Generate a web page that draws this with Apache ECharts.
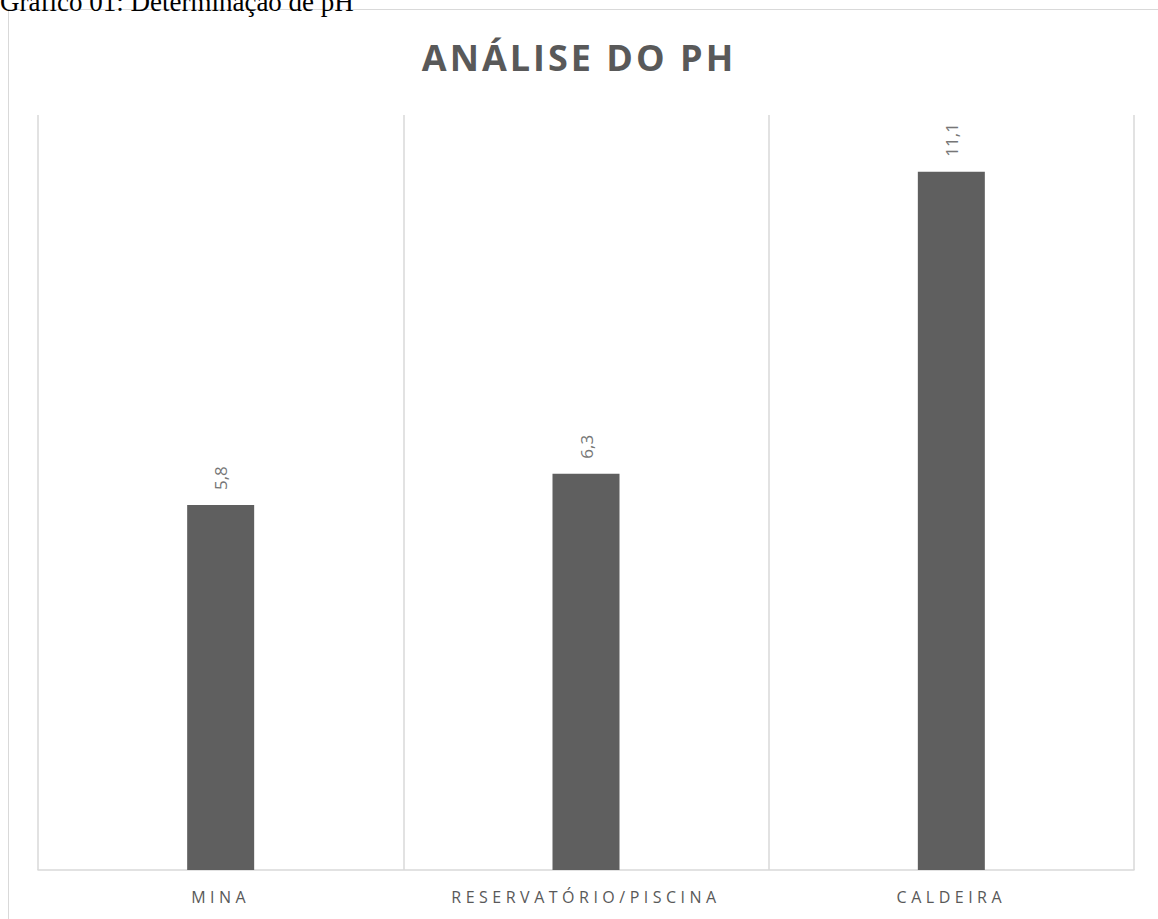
<!DOCTYPE html>
<html>
<head>
<meta charset="utf-8">
<script src="https://cdn.jsdelivr.net/npm/echarts@6/dist/echarts.min.js"></script>
<style>
  html, body { margin: 0; padding: 0; background: #fff; overflow: hidden; }
  #main { width: 1158px; height: 919px; }
</style>
</head>
<body>
<div id="main"></div>
<script>
var categories = ['MINA', 'RESERVATÓRIO/PISCINA', 'CALDEIRA'];
var phValues = [5.8, 6.3, 11.1];
var yMax = 12;

var chart = echarts.init(document.getElementById('main'), null, { renderer: 'svg' });

chart.setOption({
  backgroundColor: '#ffffff',
  animation: false,
  title: {
    text: 'ANÁLISE DO PH',
    left: 'center',
    top: 34,
    textStyle: {
      fontFamily: 'Open Sans',
      fontSize: 36,
      fontWeight: 'bold',
      color: '#595959'
    }
  },
  graphic: [
    {
      type: 'rect',
      shape: { x: 8.5, y: 9.5, width: 1170, height: 930 },
      style: { fill: 'none', stroke: '#d9d9d9', lineWidth: 1 },
      silent: true
    },
    {
      type: 'text',
      left: 0,
      top: -12,
      style: {
        text: 'Gráfico 01: Determinação de pH',
        font: '27px "Liberation Serif"',
        fill: '#000'
      },
      silent: true
    }
  ],
  grid: { left: 38, right: 24, top: 115, bottom: 49 },
  xAxis: {
    type: 'category',
    data: categories,
    boundaryGap: true,
    axisLine: { lineStyle: { color: '#d9d9d9', width: 1.5 } },
    axisTick: { show: false },
    splitLine: { show: true, lineStyle: { color: '#d9d9d9', width: 1.5 } },
    axisLabel: {
      margin: 19,
      fontFamily: 'Open Sans',
      fontSize: 16,
      color: '#595959'
    }
  },
  yAxis: {
    type: 'value',
    min: 0,
    max: yMax,
    axisLine: { show: false },
    axisTick: { show: false },
    axisLabel: { show: false },
    splitLine: { show: false }
  },
  series: [{
    type: 'bar',
    data: phValues,
    barWidth: 67,
    itemStyle: { color: '#5f5f5f' },
    label: {
      show: true,
      position: 'top',
      distance: 15,
      rotate: 90,
      align: 'left',
      verticalAlign: 'middle',
      fontFamily: 'Open Sans',
      fontSize: 17,
      color: '#767676',
      formatter: function (p) { return String(p.value).replace('.', ','); }
    }
  }]
});

// espaçamento entre letras (estilo Excel) no título e nas categorias
function spacing() {
  var texts = document.querySelectorAll('#main text');
  texts.forEach(function (t) {
    var s = t.textContent;
    if (s === 'ANÁLISE DO PH') t.style.letterSpacing = '3px';
    else if (categories.indexOf(s) >= 0) t.style.letterSpacing = '4.5px';
  });
}
chart.on('finished', spacing);
spacing();
</script>
</body>
</html>
